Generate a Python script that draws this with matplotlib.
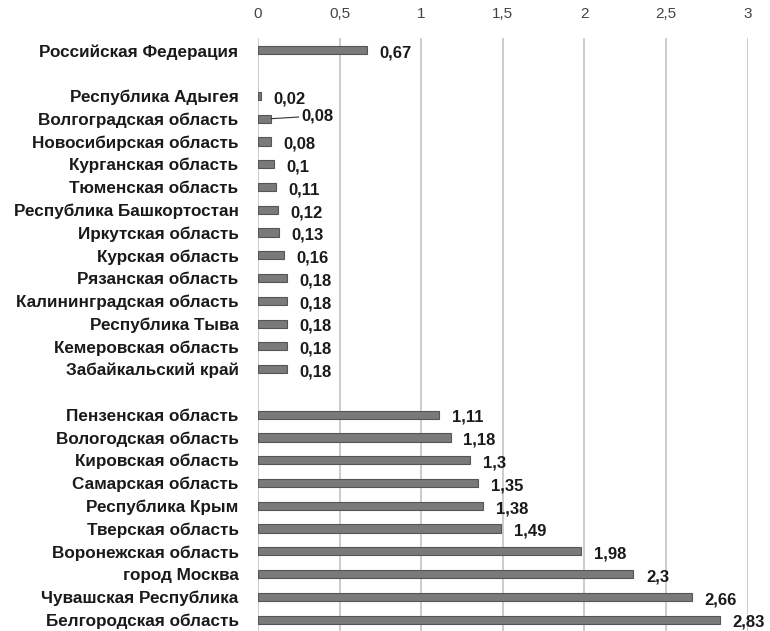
import matplotlib
matplotlib.use('Agg')
from matplotlib import pyplot as plt

# data (top to bottom, '' = gap row)
regions = ['Российская Федерация', '',
           'Республика Адыгея', 'Волгоградская область', 'Новосибирская область',
           'Курганская область', 'Тюменская область', 'Республика Башкортостан',
           'Иркутская область', 'Курская область', 'Рязанская область',
           'Калининградская область', 'Республика Тыва', 'Кемеровская область',
           'Забайкальский край', '',
           'Пензенская область', 'Вологодская область', 'Кировская область',
           'Самарская область', 'Республика Крым', 'Тверская область',
           'Воронежская область', 'город Москва', 'Чувашская Республика',
           'Белгородская область']
values = [0.67, None,
          0.02, 0.08, 0.08, 0.1, 0.11, 0.12, 0.13, 0.16, 0.18, 0.18, 0.18, 0.18, 0.18, None,
          1.11, 1.18, 1.3, 1.35, 1.38, 1.49, 1.98, 2.3, 2.66, 2.83]
xticks = [0, 0.5, 1, 1.5, 2, 2.5, 3]
xtick_labels = ['0', '0,5', '1', '1,5', '2', '2,5', '3']

plt.rcParams['font.family'] = ['Liberation Sans', 'DejaVu Sans']

fig = plt.figure(figsize=(7.7, 6.31), dpi=100)
ax = fig.add_axes([0.335, 0.0, 0.636, 0.94])

ys = [i for i, v in enumerate(values) if v is not None]
vals = [v for v in values if v is not None]
ax.barh(ys, vals, height=0.36, color='#7a7a7a', edgecolor='#555555', linewidth=0.8, zorder=3)

for y, v in zip(ys, vals):
    txt = ('%g' % v).replace('.', ',')
    if regions[y] == 'Волгоградская область':
        # label pulled out with a leader line
        ax.annotate(txt, xy=(v, y), xytext=(22, 2), textcoords='offset points',
                    fontsize=12, fontweight='bold', va='center', ha='left', color='#1a1a1a',
                    arrowprops=dict(arrowstyle='-', color='#333333', lw=0.8, shrinkA=0, shrinkB=0))
    else:
        ax.annotate(txt, xy=(v, y), xytext=(9, -2), textcoords='offset points',
                    fontsize=12, fontweight='bold', va='center', ha='left', color='#1a1a1a')

ax.set_yticks(range(len(regions)))
ax.set_yticklabels(regions, fontsize=12.3, fontweight='bold', color='#1a1a1a')
ax.set_ylim(25.5, -0.55)
ax.set_xlim(0, 3)
ax.set_xticks(xticks)
ax.set_xticklabels(xtick_labels, fontsize=11, color='#444444')
ax.xaxis.tick_top()
ax.tick_params(axis='both', length=0)
ax.tick_params(axis='x', pad=12)
ax.tick_params(axis='y', pad=14)
ax.grid(axis='x', color='#c8c8c8', linewidth=1.3, zorder=0)
for s in ax.spines.values():
    s.set_visible(False)

plt.savefig('out.png', dpi=100)
